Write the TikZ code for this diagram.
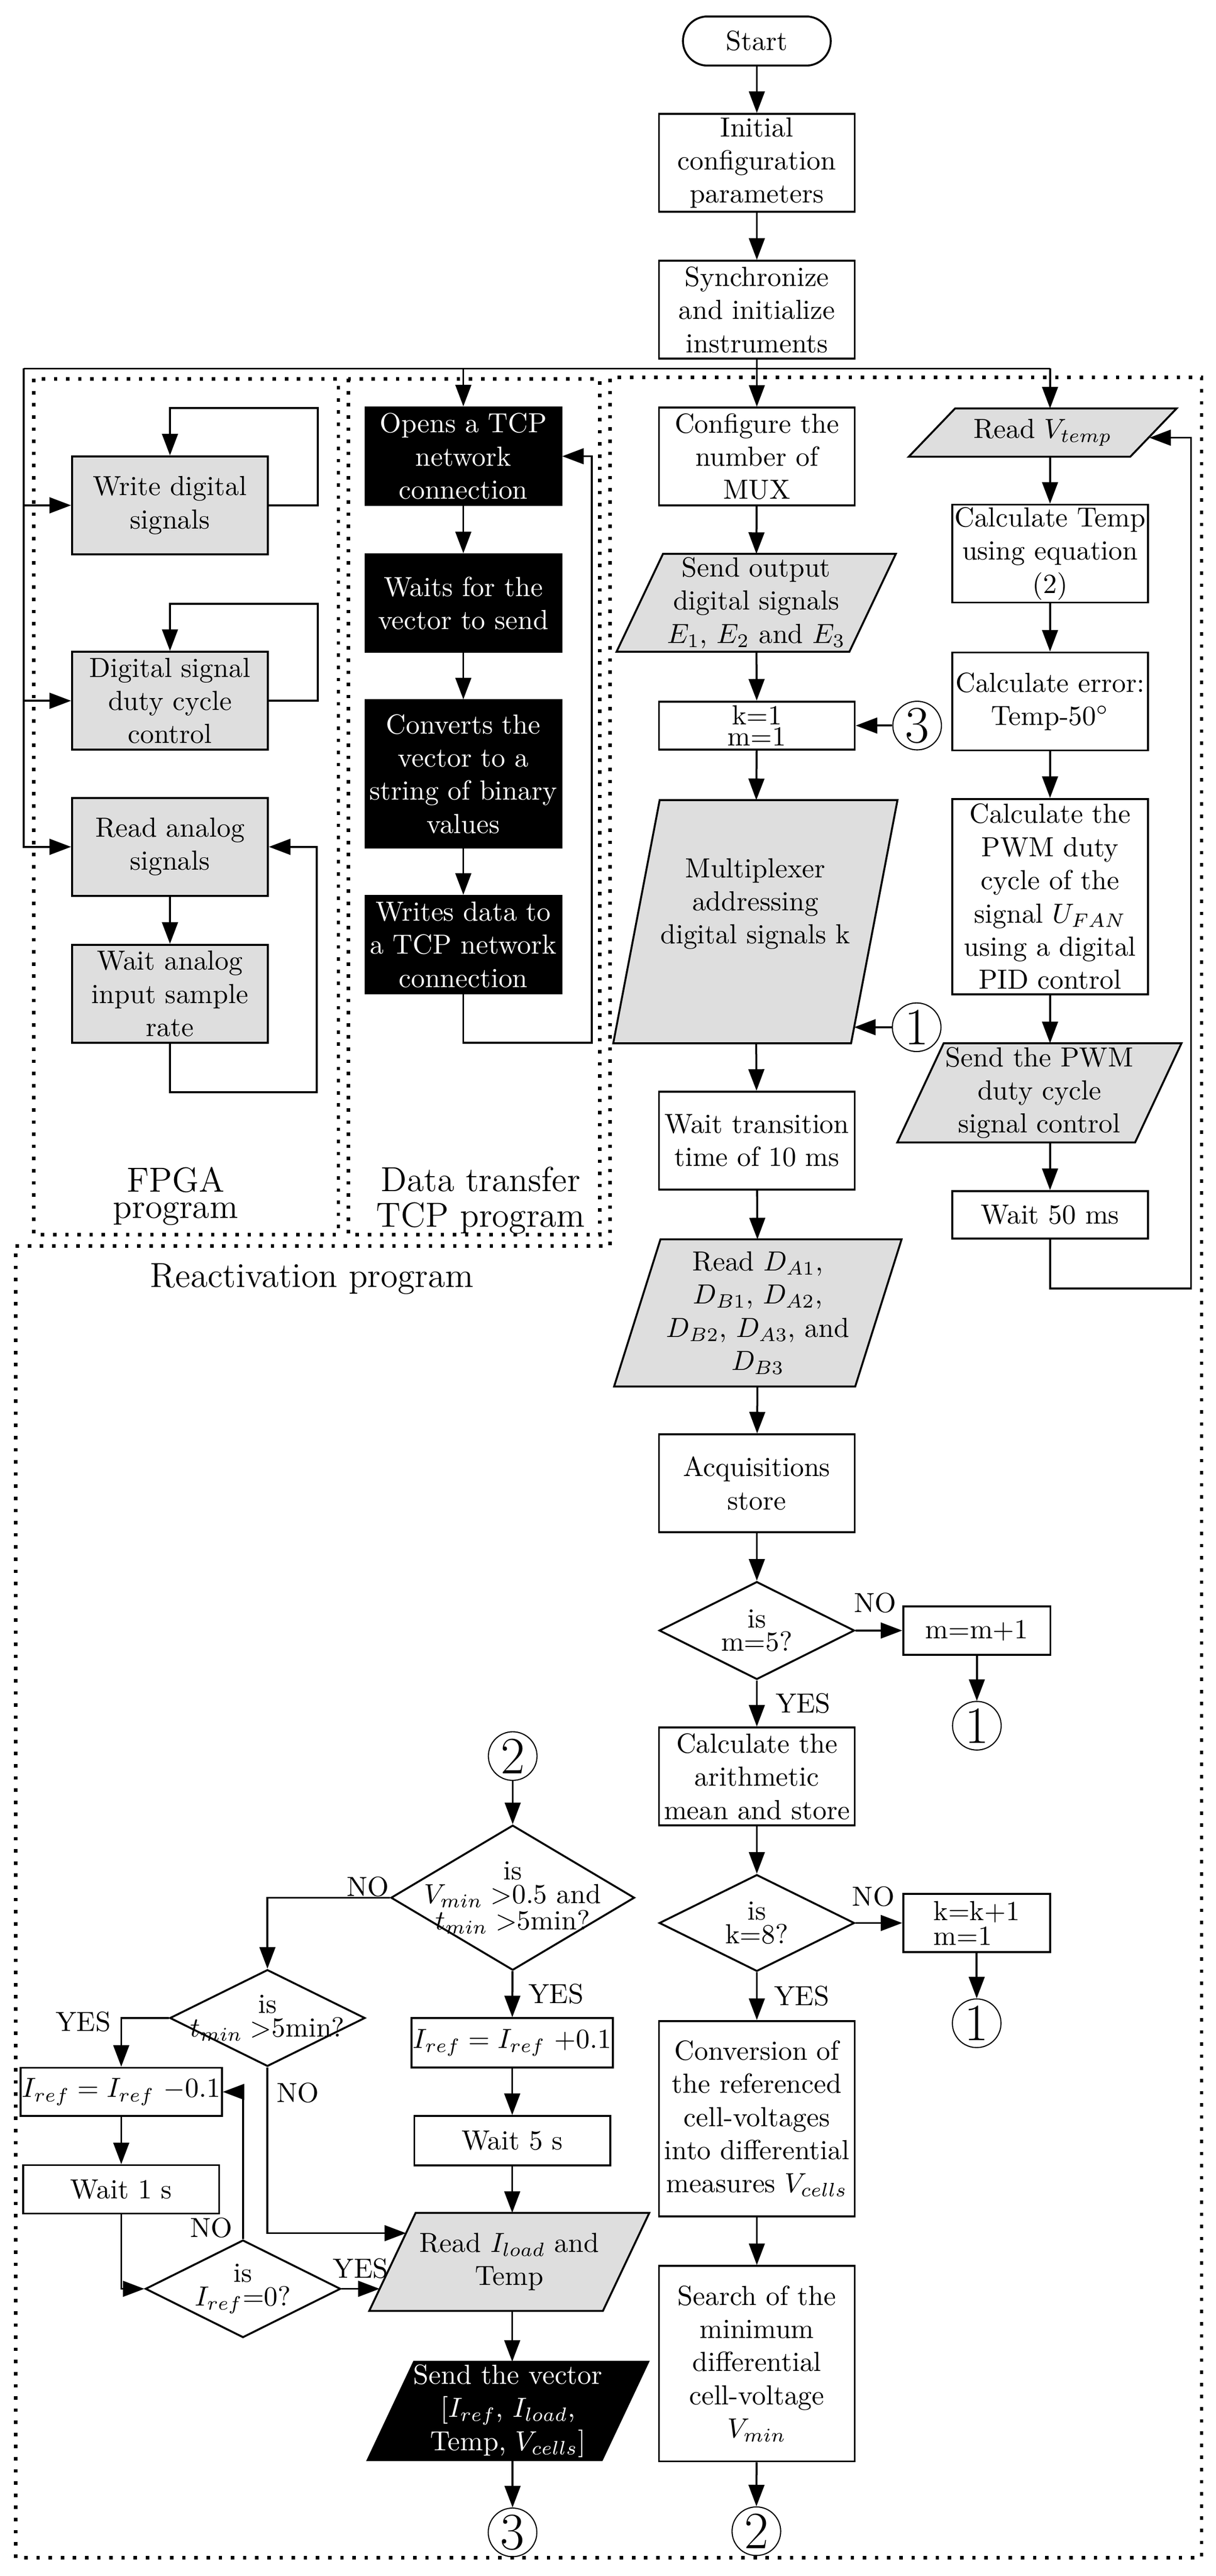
\documentclass[tikz,border=0pt]{standalone}
\usepackage{tikz}
\usetikzlibrary{shapes.geometric,arrows.meta,backgrounds,positioning}
\definecolor{boxgray}{gray}{0.87}
\newcommand{\slantbox}[2]{%
  \begin{scope}[on background layer]
    \filldraw[line width=0.7pt, fill=#2] ([xshift=8.4pt]#1.north west) -- ([xshift=8.4pt]#1.north east)
      -- ([xshift=-8.4pt]#1.south east) -- ([xshift=-8.4pt]#1.south west) -- cycle;
  \end{scope}}

\begin{document}
\begin{tikzpicture}[x=0.20877cm, y=0.20877cm]
\tikzstyle{every node}+=[inner sep=0.5pt]
\tikzstyle{proc}=[draw, line width=0.7pt, minimum width=70.9pt, align=center]
\tikzstyle{fpga}=[proc, fill=boxgray]
\tikzstyle{tcp}=[proc, fill=black, text=white]
\tikzstyle{ptext}=[align=center, outer sep=0pt]
\tikzstyle{decision}=[diamond, draw, line width=0.7pt, inner sep=-12pt, align=center, font=\fontsize{10}{8.5}\selectfont]
\tikzstyle{conn}=[circle, draw, thin, minimum size=17.6pt, inner sep=0pt, font=\fontsize{19}{19}\selectfont]
\tikzstyle{flow}=[line width=0.7pt, -{Triangle[length=7.8pt,width=5.7pt]}]
\tikzstyle{wire}=[line width=0.7pt]
\tikzstyle{frame}=[line width=1.25pt, dash pattern=on 1.25pt off 3.15pt]
\tikzstyle{lbl}=[inner sep=0pt]
\tikzstyle{title}=[align=center]
\useasboundingbox (0,0) rectangle (74.1,-156.96);

\draw[frame] (2.05,-23.08) rectangle (20.62,-75.23);
\draw[frame] (21.23,-23.08) rectangle (36.56,-75.23);
\draw[frame] (0.95,-75.93) -- (37.19,-75.93) -- (37.19,-23.0) -- (73.24,-23.0) -- (73.24,-155.85) -- (0.95,-155.85) -- cycle;
\node[title, font=\fontsize{12.6}{9.6}\selectfont] (fpgalbl) at (10.7,-72.88) {FPGA\\program};
\node[title, font=\fontsize{12.6}{12.8}\selectfont] (tcplbl) at (29.3,-73.15) {Data transfer\\TCP program};
\node[title, font=\fontsize{12.6}{15}\selectfont] (reactlbl) at (19.02,-77.92) {Reactivation program};

\node[draw, line width=0.7pt, rounded corners=8.9pt, minimum width=53.5pt, minimum height=17.8pt] (start) at (46.13,-2.5) {Start};
\node[proc, minimum height=35.4pt] (init) at (46.13,-9.92) {Initial\\configuration\\parameters};
\node[proc, minimum height=35.4pt] (sync) at (46.13,-18.87) {Synchronize\\and initialize\\instruments};

\node[fpga, minimum height=35.4pt] (wd) at (10.36,-30.79) {Write digital\\signals};
\node[fpga, minimum height=35.4pt] (dc) at (10.36,-42.7) {Digital signal\\duty cycle\\control};
\node[fpga, minimum height=35.4pt] (ra) at (10.36,-51.6) {Read analog\\signals};
\node[fpga, minimum height=35.4pt] (wa) at (10.36,-60.55) {Wait analog\\input sample\\rate};

\node[tcp, minimum height=35.4pt] (tcpopen) at (28.24,-27.8) {Opens a TCP\\network\\connection};
\node[tcp, minimum height=35.4pt] (tcpwait) at (28.24,-36.75) {Waits for the\\vector to send};
\node[tcp, minimum height=53.2pt] (tcpconv) at (28.24,-47.15) {Converts the\\vector to a\\string of binary\\values};
\node[tcp, minimum height=35.4pt] (tcpwrite) at (28.24,-57.56) {Writes data to\\a TCP network\\connection};

\node[proc, minimum height=35.4pt] (mux) at (46.13,-27.82) {Configure the\\number of\\MUX};
\node[ptext, minimum width=84.3pt, minimum height=35.4pt] (sendout) at (46.09,-36.73) {Send output\\digital signals\\$E_1$, $E_2$ and $E_3$};
\slantbox{sendout}{boxgray}
\node[proc, minimum height=17.4pt, font=\fontsize{10}{7.6}\selectfont] (k1) at (46.13,-44.21) {k=1\\m=1};
\node[conn] (c3a) at (55.9,-44.21) {3};
\node[ptext, minimum width=86.1pt, minimum height=88pt, text depth=15pt] (muxaddr) at (46.04,-56.16) {Multiplexer\\addressing\\digital signals k};
\slantbox{muxaddr}{boxgray}
\node[conn] (c1a) at (55.87,-62.59) {1};
\coordinate (muxin) at (52.06,-62.59);
\node[proc, minimum height=35.4pt] (wt) at (46.13,-69.5) {Wait transition\\time of 10 ms};
\node[ptext, minimum width=87.3pt, minimum height=53.3pt] (readd) at (46.19,-80.0) {Read $D_{A1}$,\\$D_{B1}$, $D_{A2}$,\\$D_{B2}$, $D_{A3}$, and\\$D_{B3}$};
\slantbox{readd}{boxgray}
\node[proc, minimum height=35.4pt] (acq) at (46.13,-90.38) {Acquisitions\\store};
\node[decision, minimum width=70.7pt, minimum height=35.4pt] (dm5) at (46.13,-99.35) {is\\m=5?};
\node[proc, minimum width=53.3pt, minimum height=17.6pt] (mm1) at (59.54,-99.35) {m=m+1};
\node[conn] (c1b) at (59.54,-105.15) {1};
\node[proc, minimum height=35.4pt] (mean) at (46.13,-108.24) {Calculate the\\arithmetic\\mean and store};
\node[decision, minimum width=70.7pt, minimum height=35pt] (dk8) at (46.13,-117.17) {is\\k=8?};
\node[proc, minimum width=53.2pt, minimum height=21.2pt, align=left, font=\fontsize{10}{9}\selectfont] (kk1) at (59.53,-117.17) {k=k+1\\m=1};
\node[conn] (c1c) at (59.53,-123.28) {1};
\node[proc, minimum height=70.7pt] (conv) at (46.13,-129.09) {Conversion of\\the referenced\\cell-voltages\\into differential\\measures $V_{cells}$};
\node[proc, minimum height=70.7pt] (search) at (46.13,-144.02) {Search of the\\minimum\\differential\\cell-voltage\\$V_{min}$};
\node[conn] (c2b) at (46.1,-154.23) {2};

\node[ptext, minimum width=80.2pt, minimum height=17.5pt] (rvt) at (63.55,-26.36) {Read $V_{temp}$};
\slantbox{rvt}{boxgray}
\coordinate (rvtin) at (70.05,-26.67);
\node[proc, minimum height=35.4pt] (ctemp) at (64.0,-33.73) {Calculate Temp\\using equation\\(2)};
\node[proc, minimum height=35.4pt] (cerr) at (64.0,-42.74) {Calculate error:\\Temp-50$^\circ$};
\node[proc, minimum height=70.7pt] (cpwm) at (64.0,-54.63) {Calculate the\\PWM duty\\cycle of the\\signal $U_{FAN}$\\using a digital\\PID control};
\node[ptext, minimum width=86.1pt, minimum height=35.9pt] (spwm) at (63.35,-66.59) {Send the PWM\\duty cycle\\signal control};
\slantbox{spwm}{boxgray}
\node[proc, minimum height=17.2pt] (w50) at (64.0,-74.02) {Wait 50 ms};

\node[conn] (c2a) at (31.25,-107.0) {2};
\node[decision, minimum width=88.2pt, minimum height=52.5pt] (dvmin) at (31.25,-115.63) {is\\$V_{min}>$0.5 and\\$t_{min}>$5min?};
\node[decision, minimum width=70.7pt, minimum height=35pt] (dtmin) at (16.3,-122.96) {is\\$t_{min}>$5min?};
\node[proc, minimum height=17.5pt] (irefm) at (7.39,-127.46) {$I_{ref} = I_{ref}$ $-$0.1};
\node[proc, minimum height=17.5pt] (w1) at (7.39,-133.4) {Wait 1 s};
\node[decision, minimum width=70.7pt, minimum height=35.3pt] (diref) at (14.81,-139.46) {is\\$I_{ref}$=0?};
\node[proc, minimum height=17.8pt] (irefp) at (31.22,-124.47) {$I_{ref} = I_{ref}$ $+$0.1};
\node[proc, minimum height=17.8pt] (w5) at (31.22,-130.43) {Wait 5 s};
\node[ptext, minimum width=84.6pt, minimum height=35.5pt] (rload) at (31.04,-137.82) {Read $I_{load}$ and\\Temp};
\slantbox{rload}{boxgray}
\coordinate (rloadno) at (24.75,-136.07);
\coordinate (rloadyes) at (23.14,-139.46);
\node[ptext, minimum width=84.8pt, minimum height=35.6pt, text=white] (svec) at (30.96,-146.9) {Send the vector\\{[}$I_{ref}$, $I_{load}$,\\Temp, $V_{cells}${]}};
\slantbox{svec}{black}
\node[conn] (c3b) at (31.24,-154.3) {3};

\draw[flow] (start) -- (init);
\draw[flow] (init) -- (sync);
\coordinate (busl) at (1.45,-22.46);
\coordinate (busr) at (64.0,-22.46);
\draw[wire] (sync.south) -- (sync.south |- busl);
\draw[wire] (busl) -- (busr);
\draw[flow] (busr) -- (busr |- rvt.north);
\draw[flow] (tcpopen |- busl) -- (tcpopen);
\draw[flow] (mux |- busl) -- (mux);
\draw[flow] (busl) |- (ra);
\draw[flow] (busl |- wd) -- (wd);
\draw[flow] (busl |- dc) -- (dc);

\draw[flow] (wd.east) -- ++(2.97,0) -- ++(0,5.93) -| (wd.north);
\draw[flow] (dc.east) -- ++(2.97,0) -- ++(0,5.92) -| (dc.north);
\draw[flow] (ra) -- (wa);
\draw[flow] (wa.south) -- ++(0,-2.96) -- ++(8.94,0) |- (ra.east);

\draw[flow] (tcpopen) -- (tcpwait);
\draw[flow] (tcpwait) -- (tcpconv);
\draw[flow] (tcpconv) -- (tcpwrite);
\draw[flow] (tcpwrite.south) -- ++(0,-2.94) -- ++(7.82,0) |- (tcpopen.east);

\draw[flow] (mux) -- (sendout);
\draw[flow] (sendout) -- (k1);
\draw[flow] (c3a) -- (k1);
\draw[flow] (k1) -- (muxaddr);
\draw[flow] (c1a) -- (muxin);
\draw[flow] (muxaddr) -- (wt);
\draw[flow] (wt) -- (readd);
\draw[flow] (readd) -- (acq);
\draw[flow] (acq) -- (dm5);
\draw[flow] (dm5) -- node[lbl, pos=0, anchor=south west, xshift=-0.8pt, yshift=6pt] (no1) {NO} (mm1);
\draw[flow] (mm1) -- (c1b);
\draw[flow] (dm5) -- node[lbl, right=6.5pt] (yes1) {YES} (mean);
\draw[flow] (mean) -- (dk8);
\draw[flow] (dk8) -- node[lbl, pos=0, anchor=south west, xshift=-1.5pt, yshift=5.5pt] (no2) {NO} (kk1);
\draw[flow] (kk1) -- (c1c);
\draw[flow] (dk8) -- node[lbl, right=6pt] (yes2) {YES} (conv);
\draw[flow] (conv) -- (search);
\draw[flow] (search) -- (c2b);

\draw[flow] (rvt.south -| ctemp) -- (ctemp);
\draw[flow] (ctemp) -- (cerr);
\draw[flow] (cerr) -- (cpwm);
\draw[flow] (cpwm) -- (cpwm |- spwm.north);
\draw[flow] (spwm.south -| w50) -- (w50);
\draw[flow] (w50.south) -- ++(0,-2.99) -- ++(8.59,0) |- (rvtin);

\draw[flow] (c2a) -- (dvmin);
\draw[flow] (dvmin.west) -| node[lbl, pos=0, anchor=south east] (no3) {NO} (dtmin.north);
\draw[flow] (dvmin) -- node[lbl, right=5.6pt] (yes3) {YES} (irefp);
\draw[flow] (irefp) -- (w5);
\draw[flow] (w5) -- (w5 |- rload.north);
\draw[flow] (dtmin.west) -| node[lbl, pos=0.5, left=3.4pt, yshift=-1.4pt] (yes4) {YES} (irefm.north);
\draw[flow] (irefm) -- (w1);
\draw[flow] (w1.south) |- (diref.west);
\draw[flow] (diref.north) |- node[lbl, pos=0, anchor=south east, xshift=-3.5pt] (no4) {NO} (irefm.east);
\draw[flow] (diref.east) -- node[lbl, above=3.3pt] (yes5) {YES} (rloadyes);
\draw[flow] (dtmin.south) |- node[lbl, pos=0, anchor=north west, xshift=3pt, yshift=-5.3pt] (no5) {NO} (rloadno);
\draw[flow] (rload.south -| w5) -- (svec.north -| w5);
\draw[flow] (svec.south -| c3b) -- (c3b);
\end{tikzpicture}
\end{document}
